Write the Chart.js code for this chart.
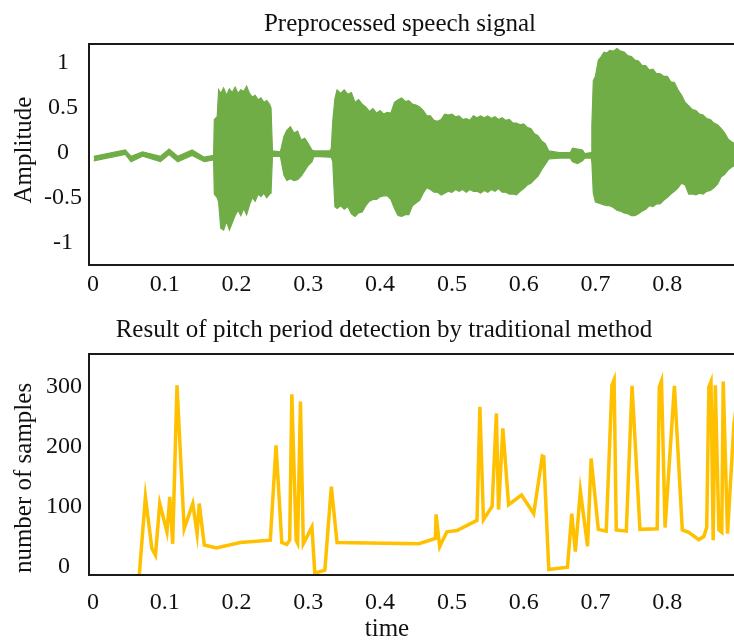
<!DOCTYPE html>
<html>
<head>
<meta charset="utf-8">
<script src="https://cdn.jsdelivr.net/npm/chart.js@4"></script>
<style>
  html, body { margin: 0; padding: 0; overflow: hidden; background: #fff; }
  #wrap { width: 760px; }
  .box { position: relative; width: 760px; }
</style>
</head>
<body>
<div id="wrap">
  <div class="box" style="height:300px"><canvas id="chartSignal"></canvas></div>
  <div class="box" style="height:340px"><canvas id="chartPitch"></canvas></div>
</div>
<script>
// speech signal envelope (time in s, amplitude)
let sigTime = [
    0.001, 0.045, 0.053, 0.069, 0.094, 0.106, 0.118, 0.138, 0.155, 0.168,
    0.169, 0.173, 0.175, 0.178, 0.182, 0.186, 0.190, 0.194, 0.198, 0.202,
    0.206, 0.210, 0.214, 0.218, 0.222, 0.226, 0.230, 0.234, 0.238, 0.242,
    0.246, 0.248, 0.250, 0.261, 0.266, 0.270, 0.275, 0.280, 0.285, 0.290,
    0.295, 0.300, 0.305, 0.308, 0.330, 0.332, 0.334, 0.337, 0.340, 0.345,
    0.350, 0.355, 0.360, 0.365, 0.370, 0.375, 0.380, 0.385, 0.390, 0.395,
    0.400, 0.405, 0.410, 0.415, 0.420, 0.425, 0.430, 0.435, 0.440, 0.445,
    0.450, 0.455, 0.460, 0.465, 0.470, 0.475, 0.480, 0.485, 0.490, 0.495,
    0.500, 0.505, 0.510, 0.515, 0.520, 0.525, 0.530, 0.535, 0.540, 0.545,
    0.550, 0.555, 0.560, 0.565, 0.570, 0.575, 0.580, 0.585, 0.590, 0.595,
    0.600, 0.605, 0.610, 0.615, 0.620, 0.625, 0.630, 0.635,
    0.650, 0.665, 0.668, 0.675, 0.682, 0.685, 0.694, 0.695, 0.697, 0.700,
    0.704, 0.708, 0.712, 0.716, 0.720, 0.725, 0.730, 0.735, 0.740, 0.745,
    0.750, 0.755, 0.760, 0.765, 0.770, 0.775, 0.780, 0.785, 0.790, 0.795,
    0.800, 0.805, 0.810, 0.815, 0.820, 0.825, 0.830, 0.835, 0.840, 0.845,
    0.850, 0.855, 0.860, 0.865, 0.870, 0.875, 0.880, 0.885, 0.890, 0.895
];
let sigUpper = [
    -0.04, 0.03, -0.04, 0.01, -0.04, 0.04, -0.04, 0.03, -0.05, -0.03,
    0.37, 0.40, 0.70, 0.66, 0.72, 0.64, 0.71, 0.67, 0.73, 0.66,
    0.70, 0.68, 0.74, 0.66, 0.62, 0.64, 0.59, 0.61, 0.56, 0.58,
    0.54, 0.50, 0.02, 0.01, 0.18, 0.25, 0.29, 0.22, 0.24, 0.14,
    0.16, 0.10, 0.03, 0.02, 0.02, 0.05, 0.35, 0.60, 0.70, 0.66,
    0.70, 0.65, 0.67, 0.56, 0.59, 0.54, 0.51, 0.46, 0.49, 0.44,
    0.47, 0.43, 0.45, 0.44, 0.56, 0.59, 0.61, 0.57, 0.58, 0.54,
    0.53, 0.51, 0.47, 0.41, 0.41, 0.36, 0.35, 0.37, 0.43, 0.42,
    0.43, 0.40, 0.41, 0.37, 0.38, 0.36, 0.41, 0.39, 0.41, 0.39,
    0.41, 0.38, 0.40, 0.37, 0.39, 0.36, 0.37, 0.33, 0.33, 0.31,
    0.32, 0.28, 0.27, 0.21, 0.19, 0.13, 0.10, 0.02,
    0.00, 0.00, 0.05, 0.04, 0.03, -0.01, 0.00, 0.30, 0.80, 0.85,
    1.03, 1.07, 1.12, 1.11, 1.14, 1.13, 1.16, 1.13, 1.12, 1.08,
    1.07, 1.03, 1.02, 0.97, 0.97, 0.92, 0.93, 0.88, 0.88, 0.85,
    0.85, 0.79, 0.78, 0.70, 0.64, 0.56, 0.52, 0.48, 0.47, 0.43,
    0.42, 0.38, 0.37, 0.33, 0.31, 0.27, 0.22, 0.15, 0.12, 0.10
];
let sigLower = [
    -0.09, -0.02, -0.10, -0.04, -0.10, -0.02, -0.10, -0.03, -0.10, -0.08,
    -0.46, -0.50, -0.55, -0.84, -0.86, -0.76, -0.86, -0.78, -0.70, -0.64,
    -0.70, -0.62, -0.69, -0.58, -0.50, -0.54, -0.46, -0.49, -0.45, -0.50,
    -0.46, -0.45, -0.04, -0.04, -0.25, -0.31, -0.29, -0.31, -0.30, -0.26,
    -0.20, -0.14, -0.10, -0.04, -0.05, -0.05, -0.10, -0.60, -0.62, -0.59,
    -0.63, -0.60, -0.68, -0.71, -0.67, -0.66, -0.59, -0.54, -0.52, -0.52,
    -0.49, -0.48, -0.48, -0.52, -0.62, -0.70, -0.71, -0.69, -0.69, -0.59,
    -0.56, -0.53, -0.45, -0.39, -0.41, -0.44, -0.44, -0.47, -0.45, -0.43,
    -0.44, -0.41, -0.43, -0.41, -0.44, -0.41, -0.43, -0.43, -0.45, -0.42,
    -0.44, -0.41, -0.43, -0.40, -0.44, -0.44, -0.46, -0.46, -0.47, -0.43,
    -0.40, -0.36, -0.34, -0.30, -0.26, -0.19, -0.13, -0.07,
    -0.06, -0.06, -0.10, -0.12, -0.09, -0.06, -0.06, -0.10, -0.45, -0.55,
    -0.56, -0.57, -0.58, -0.59, -0.59, -0.61, -0.64, -0.65, -0.67, -0.68,
    -0.70, -0.70, -0.68, -0.65, -0.63, -0.59, -0.60, -0.57, -0.57, -0.53,
    -0.50, -0.46, -0.43, -0.39, -0.34, -0.36, -0.46, -0.46, -0.47, -0.45,
    -0.46, -0.43, -0.42, -0.39, -0.35, -0.27, -0.24, -0.19, -0.16, -0.14
];

// pitch period (number of samples) per frame
let pitchTime = [
    0.064, 0.073, 0.082, 0.087, 0.093, 0.103, 0.107, 0.111, 0.117, 0.127,
    0.139, 0.145, 0.148, 0.155, 0.172, 0.205, 0.247, 0.255, 0.263, 0.270,
    0.274, 0.277, 0.283, 0.285, 0.289, 0.293, 0.305, 0.309, 0.323, 0.332,
    0.340, 0.454, 0.477, 0.478, 0.483, 0.493, 0.507, 0.535, 0.539, 0.544,
    0.556, 0.562, 0.565, 0.571, 0.579, 0.597, 0.614, 0.626, 0.628, 0.635,
    0.661, 0.667, 0.672, 0.679, 0.689, 0.694, 0.704, 0.715, 0.723, 0.726,
    0.729, 0.743, 0.751, 0.762, 0.786, 0.789, 0.792, 0.797, 0.810, 0.821,
    0.830, 0.844, 0.851, 0.855, 0.858, 0.861, 0.864, 0.867, 0.872, 0.876,
    0.878, 0.884, 0.893, 0.900
];
let pitchValue = [
    -20, 117, 31, 20, 106, 59, 117, 39, 303, 64,
    106, 56, 106, 37, 32, 41, 45, 203, 41, 38,
    45, 288, 45, 40, 276, 39, 67, -10, -5, 134,
    41, 39, 48, 88, 34, 59, 61, 78, 267, 79,
    101, 256, 96, 231, 104, 120, 89, 185, 184, -4,
    0, 89, 26, 127, 35, 181, 63, 60, 303, 312,
    62, 60, 302, 63, 64, 300, 310, 66, 302, 62,
    58, 46, 51, 66, 300, 309, 45, 303, 62, 58,
    309, 56, 240, 300
];

let timeTicks = [0, 0.1, 0.2, 0.3, 0.4, 0.5, 0.6, 0.7, 0.8];
let ampTicks = [-1, -0.5, 0, 0.5, 1];
let sampleTicks = [0, 100, 200, 300];

const green = '#70ad47';
const gold = '#ffc000';
const serif = "'Liberation Serif', 'Times New Roman', serif";

// frame around the plot area and free-standing texts
let framePlugin = {
    id: 'frame',
    afterDraw(chart, args, opts) {
        let ctx = chart.ctx;
        let a = chart.chartArea;
        ctx.save();
        ctx.strokeStyle = '#1a1a1a';
        ctx.lineWidth = 2;
        ctx.strokeRect(a.left, a.top, a.right - a.left, a.bottom - a.top);
        ctx.fillStyle = '#111';
        ctx.font = '25px ' + serif;
        ctx.textBaseline = 'alphabetic';
        ctx.textAlign = 'center';
        opts.texts.forEach(t => {
            ctx.save();
            ctx.translate(t.x, t.y);
            if (t.rotate) ctx.rotate(-Math.PI / 2);
            ctx.fillText(t.text, 0, 0);
            ctx.restore();
        });
        ctx.restore();
    }
};

function fixedTicks(list) {
    return scale => { scale.ticks = list.map(v => ({ value: v })); };
}

function baseOptions(yMin, yMax, yList, xPad, xHeight, padTop, texts) {
    return {
        responsive: true,
        maintainAspectRatio: false,
        animation: false,
        layout: { padding: { top: padTop, right: 21, left: 0, bottom: 0 } },
        plugins: {
            legend: { display: false },
            tooltip: { enabled: false },
            title: { display: false },
            frame: { texts: texts }
        },
        scales: {
            x: {
                type: 'linear',
                min: -0.0056,
                max: 0.9,
                grid: { display: false, drawTicks: false },
                border: { display: false },
                afterBuildTicks: fixedTicks(timeTicks),
                afterFit: s => { s.height = xHeight; },
                ticks: {
                    padding: xPad,
                    maxRotation: 0,
                    color: '#111',
                    font: { family: serif, size: 24 },
                    callback: v => String(v)
                }
            },
            y: {
                min: yMin,
                max: yMax,
                grid: { display: false, drawTicks: false },
                border: { display: false },
                afterBuildTicks: fixedTicks(yList),
                afterFit: s => { s.width = 89; },
                ticks: {
                    padding: 7,
                    crossAlign: 'center',
                    color: '#111',
                    font: { family: serif, size: 24 },
                    callback: v => String(v)
                }
            }
        }
    };
}

let signalUpper = sigTime.map((t, i) => ({ x: t, y: sigUpper[i] }));
let signalLower = sigTime.map((t, i) => ({ x: t, y: sigLower[i] }));

let chartSignal = new Chart(document.querySelector('#chartSignal').getContext('2d'), {
    type: 'line',
    data: {
        datasets: [{
            data: signalUpper,
            borderColor: green,
            backgroundColor: green,
            borderWidth: 1.2,
            pointRadius: 0,
            tension: 0,
            fill: '+1'
        }, {
            data: signalLower,
            borderColor: green,
            backgroundColor: green,
            borderWidth: 1.2,
            pointRadius: 0,
            tension: 0,
            fill: false
        }]
    },
    options: baseOptions(-1.25, 1.21, ampTicks, 5, 35, 44, [
        { text: 'Preprocessed speech signal', x: 400, y: 31 },
        { text: 'Amplitude', x: 31, y: 150, rotate: true }
    ]),
    plugins: [framePlugin]
});

let chartPitch = new Chart(document.querySelector('#chartPitch').getContext('2d'), {
    type: 'line',
    data: {
        datasets: [{
            data: pitchTime.map((t, i) => ({ x: t, y: pitchValue[i] })),
            borderColor: gold,
            borderWidth: 3.5,
            pointRadius: 0,
            tension: 0,
            fill: false
        }]
    },
    options: baseOptions(-13, 355, sampleTicks, 13, 65, 54, [
        { text: 'Result of pitch period detection by traditional method', x: 384, y: 37 },
        { text: 'number of samples', x: 31, y: 178, rotate: true },
        { text: 'time', x: 387, y: 336 }
    ]),
    plugins: [framePlugin]
});
</script>
</body>
</html>
